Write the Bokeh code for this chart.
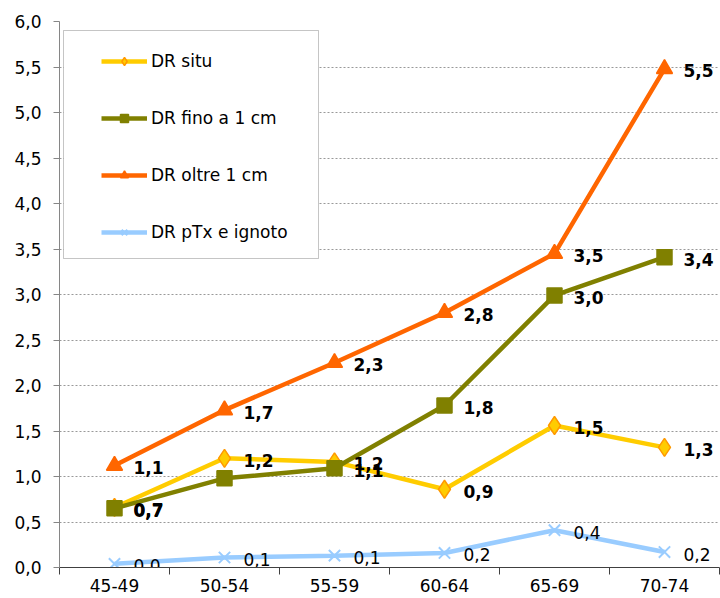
from bokeh.plotting import figure
from bokeh.models import FixedTicker, Legend, LegendItem, ColumnDataSource, BoxAnnotation
from bokeh.core.properties import value
from bokeh.embed import file_html
from bokeh.resources import INLINE

categories = ["45-49", "50-54", "55-59", "60-64", "65-69", "70-74"]
situ = [0.66, 1.20, 1.16, 0.86, 1.56, 1.32]
situ_lbl = ["0,7", "1,2", "1,2", "0,9", "1,5", "1,3"]
fino = [0.65, 0.98, 1.09, 1.78, 2.99, 3.41]
fino_lbl = ["0,7", "", "1,1", "1,8", "3,0", "3,4"]
oltre = [1.12, 1.73, 2.25, 2.80, 3.45, 5.48]
oltre_lbl = ["1,1", "1,7", "2,3", "2,8", "3,5", "5,5"]
ptx = [0.04, 0.11, 0.13, 0.16, 0.41, 0.17]
ptx_lbl = ["0,0", "0,1", "0,1", "0,2", "0,4", "0,2"]
y_ticks = [0.0, 0.5, 1.0, 1.5, 2.0, 2.5, 3.0, 3.5, 4.0, 4.5, 5.0, 5.5, 6.0]
y_tick_labels = ["0,0", "0,5", "1,0", "1,5", "2,0", "2,5", "3,0", "3,5", "4,0", "4,5", "5,0", "5,5", "6,0"]

FONT = "DejaVu Sans"
xs = [i + 0.5 for i in range(len(categories))]

p = figure(width=720, height=598, x_range=(0, len(categories)), y_range=(0, 6),
           output_backend="svg", toolbar_location=None,
           min_border_left=59, min_border_right=1, min_border_top=21, min_border_bottom=31)
p.outline_line_color = None
p.background_fill_color = "white"

# axes
p.xaxis.ticker = FixedTicker(ticks=xs, minor_ticks=list(range(0, len(categories) + 1)))
p.xaxis.major_label_overrides = {x: c for x, c in zip(xs, categories)}
p.xaxis.major_tick_out = 0
p.xaxis.major_tick_in = 0
p.xaxis.minor_tick_out = 7
p.xaxis.minor_tick_in = 0
p.xaxis.minor_tick_line_color = "#404040"
p.xaxis.axis_line_color = "#404040"
p.xaxis.major_label_text_font = FONT
p.xaxis.major_label_text_font_size = "17px"
p.xaxis.major_label_text_color = "black"
p.xaxis.major_label_standoff = 4

p.yaxis.ticker = FixedTicker(ticks=y_ticks)
p.yaxis.major_label_overrides = {t: l for t, l in zip(y_ticks, y_tick_labels)}
p.yaxis.major_tick_out = 6
p.yaxis.major_tick_in = 0
p.yaxis.minor_tick_line_color = None
p.yaxis.axis_line_color = "#868686"
p.yaxis.major_tick_line_color = "#868686"
p.yaxis.major_label_text_font = FONT
p.yaxis.major_label_text_font_size = "17px"
p.yaxis.major_label_text_color = "black"
p.yaxis.major_label_standoff = 12

p.xgrid.grid_line_color = None
p.ygrid.ticker = FixedTicker(ticks=y_ticks[1:])
p.ygrid.grid_line_color = "#999999"
p.ygrid.grid_line_dash = "2 2"
p.ygrid.grid_line_width = 1

series = [
    ("DR situ", situ, situ_lbl, "#FFCC00", "diamond", "#FF9900", 18, "bold"),
    ("DR fino a 1 cm", fino, fino_lbl, "#808000", "square", "#808000", 15, "bold"),
    ("DR oltre 1 cm", oltre, oltre_lbl, "#FF6600", "triangle", "#FF6600", 16, "bold"),
    ("DR pTx e ignoto", ptx, ptx_lbl, "#99CCFF", "x", "#99CCFF", 16, "normal"),
]

items = []
for name, ys, lbls, col, mk, lc, sz, fs in series:
    src = ColumnDataSource(dict(x=xs, y=ys, lbl=lbls))
    r1 = p.line("x", "y", source=src, line_color=col, line_width=4.5)
    if mk == "x":
        r2 = p.scatter("x", "y", source=src, marker="x", size=sz, line_color=col, line_width=2)
    else:
        r2 = p.scatter("x", "y", source=src, marker=mk, size=sz, fill_color=col,
                       line_color=lc, line_width=1.5)
    items.append(LegendItem(label=name, renderers=[r1, r2]))

for name, ys, lbls, col, mk, lc, sz, fs in series:
    src = ColumnDataSource(dict(x=xs, y=ys, lbl=lbls))
    p.text("x", "y", text="lbl", source=src, x_offset=19, y_offset=2,
           text_font=value(FONT), text_font_size="17px", text_font_style=fs,
           text_baseline="middle", text_align="left", text_color="black")

box = BoxAnnotation(left=4, right=259, top=537, bottom=309,
                    left_units="screen", right_units="screen",
                    top_units="screen", bottom_units="screen",
                    fill_color="white", fill_alpha=1,
                    line_color="#404040", line_width=1)
p.add_layout(box)

legend = Legend(items=items, location=(42, 325))
legend.padding = 20
legend.margin = 0
legend.spacing = 37
legend.glyph_height = 20
legend.glyph_width = 46
legend.label_standoff = 4
legend.label_text_font = FONT
legend.label_text_font_size = "17px"
legend.label_text_color = "black"
legend.border_line_color = None
legend.background_fill_alpha = 0
p.add_layout(legend, "center")

open("out.html", "w").write(file_html(p, INLINE))
